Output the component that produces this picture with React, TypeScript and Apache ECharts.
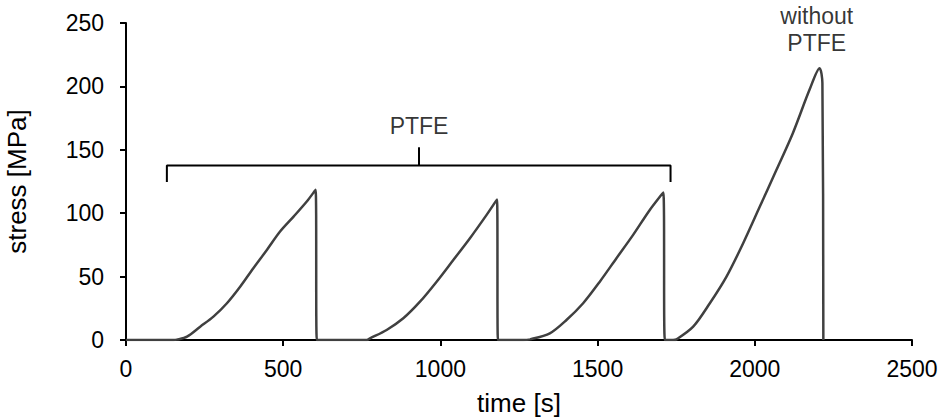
import React, { useEffect, useRef } from "react";
import * as echarts from "echarts";

// stress-time trace
const timeS = [
  0, 150, 162, 194, 236, 278, 321, 363, 405, 448, 490, 533, 575, 603, 607,
  766, 776, 829, 882, 935, 988, 1041, 1094, 1147, 1180, 1183,
  1263, 1285, 1348, 1401, 1454, 1507, 1560, 1613, 1666, 1709, 1714,
  1740, 1751, 1804, 1857, 1910, 1963, 2016, 2069, 2121, 2174, 2206, 2215, 2218,
];
const stressMPa = [
  0, 0, 0.3, 2.6, 10.5, 18.4, 29, 42, 56.6, 71, 85.5, 97.3, 109.2, 118.4, 0,
  0, 1.3, 7.9, 17.1, 30.2, 46, 63.1, 80.3, 98.7, 110.8, 0,
  0, 0.5, 5.3, 15.8, 29, 46, 64.5, 82.9, 102.6, 116.3, 0,
  0, 0.5, 10.5, 29, 50, 76.3, 105.2, 134.2, 163.1, 197.3, 214.4, 202.6, 0,
];

// bracket annotation (data coordinates)
const bracketT = [130, 130, 1732, 1732];
const bracketS = [124.6, 137.6, 137.6, 124.6];
const bracketTickT = [932, 932];
const bracketTickS = [137.6, 152];

// text annotations
const labelTexts = ["PTFE", "without\nPTFE"];
const labelT = [932, 2197];
const labelS = [169, 244.5];

const xTicks = { min: 0, max: 2500, interval: 500 };
const yTicks = { min: 0, max: 250, interval: 50 };

const FONT = "Liberation Sans, Arial, sans-serif";

export default function App() {
  const ref = useRef<HTMLDivElement>(null);
  useEffect(() => {
    if (!ref.current) return;
    const chart = echarts.init(ref.current, undefined, { renderer: "svg" });
    const axisCommon = {
      splitLine: { show: false },
      axisLine: { show: true, lineStyle: { color: "#000", width: 2 } },
      axisTick: { show: true, inside: false, length: 6, lineStyle: { color: "#000", width: 2 } },
      axisLabel: { color: "#000", fontSize: 23, fontFamily: FONT, formatter: (v: number) => String(v) },
      nameTextStyle: { color: "#000", fontSize: 26, fontFamily: FONT },
      nameLocation: "middle" as const,
    };
    chart.setOption({
      animation: false,
      backgroundColor: "#fff",
      grid: {
        left: 126, right: 28, top: 23, bottom: 79,
        containLabel: false, outerBoundsMode: "none",
      },
      xAxis: {
        type: "value",
        ...xTicks,
        ...axisCommon,
        axisLabel: { ...axisCommon.axisLabel, margin: 17 },
        name: "time [s]",
        nameGap: 50,
      },
      yAxis: {
        type: "value",
        ...yTicks,
        ...axisCommon,
        axisLabel: { ...axisCommon.axisLabel, margin: 22 },
        name: "stress [MPa]",
        nameGap: 96,
        nameRotate: 90,
      },
      series: [
        {
          type: "line",
          data: timeS.map((t, i) => [t, stressMPa[i]]),
          showSymbol: false,
          smooth: 0.3,
          lineStyle: { color: "#404040", width: 2.5 },
          z: 3,
        },
        {
          type: "line",
          data: bracketT.map((t, i) => [t, bracketS[i]]),
          showSymbol: false,
          lineStyle: { color: "#000", width: 2 },
          z: 2,
        },
        {
          type: "line",
          data: bracketTickT.map((t, i) => [t, bracketTickS[i]]),
          showSymbol: false,
          lineStyle: { color: "#000", width: 2 },
          z: 2,
        },
        {
          type: "scatter",
          symbolSize: 0,
          data: labelT.map((t, i) => ({ value: [t, labelS[i]], name: labelTexts[i] })),
          label: {
            show: true,
            position: "inside",
            formatter: (p: any) => p.name,
            color: "#000",
            fontSize: 23,
            fontFamily: FONT,
            lineHeight: 27,
            align: "center",
            verticalAlign: "middle",
          },
          z: 4,
        },
      ],
    });
    return () => chart.dispose();
  }, []);
  return (
    <div
      ref={ref}
      style={{ position: "fixed", left: 0, top: 0, width: 940, height: 419, background: "#fff" }}
    />
  );
}
